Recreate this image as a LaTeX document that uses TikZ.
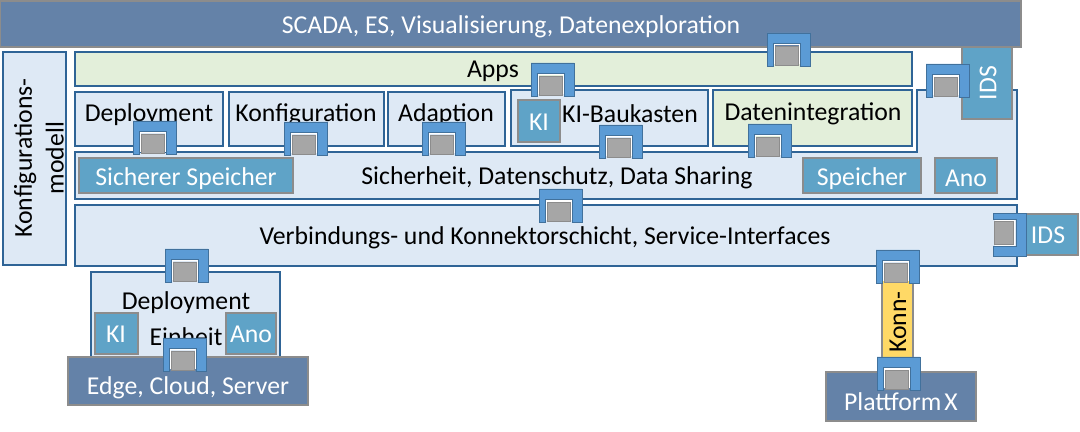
\documentclass[tikz,border=0pt]{standalone}
\usepackage{fontspec}
\setmainfont{Carlito}
\definecolor{darkfill}{HTML}{6482A8}
\definecolor{lightfill}{HTML}{DEE9F5}
\definecolor{greenfill}{HTML}{E3EFDA}
\definecolor{tealfill}{HTML}{5FA3C7}
\definecolor{konnfill}{HTML}{FFD966}
\definecolor{bluedge}{HTML}{2F6496}
\definecolor{greyedge}{HTML}{8C8C8C}
\definecolor{clampfill}{HTML}{5B9BD5}
\definecolor{clampedge}{HTML}{41719C}
\tikzset{
  darkbox/.style={draw=greyedge,fill=darkfill,line width=0.8pt},
  lightbox/.style={draw=bluedge,fill=lightfill,line width=0.8pt},
  greenbox/.style={draw=bluedge,fill=greenfill,line width=0.8pt},
  tealbox/.style={draw=greyedge,fill=tealfill,line width=0.8pt},
  konnbox/.style={draw=greyedge,fill=konnfill,line width=0.8pt},
  blacktext/.style={inner sep=0pt,font=\fontsize{18.3}{21.5}\selectfont,text=black},
  whitetext/.style={inner sep=0pt,font=\fontsize{18.3}{21.5}\selectfont,text=white},
  clamp/.pic={
    \draw[draw=clampedge,fill=clampfill,line width=0.5pt]
      (-21.5,16.5) -- (-21.5,-16.5) -- (21.5,-16.5) -- (21.5,16.5) -- (11.5,16.5)
      -- (11.5,-6.5) -- (-15.5,-6.5) -- (-15.5,16.5) -- cycle;
    \draw[draw=white,line width=0.7pt] (-14.5,15) -- (-14.5,-5) -- (10.5,-5) -- (10.5,15);
    \draw[draw=greyedge,fill=black!35,line width=0.6pt] (-13.5,-3.5) rectangle (9.5,15.5);
  }
}
\begin{document}
\begin{tikzpicture}[x=0.025cm,y=-0.025cm]
\useasboundingbox (0,0) rectangle (1080,432);

%top
\draw[darkbox] (0,1) rectangle (1021,47);
\node[whitetext] (scada) at (511,27) {SCADA, ES, Visualisierung, Datenexploration};

%konfigurationsmodell
\draw[lightbox] (3,52) rectangle (66,265);
\node[blacktext,rotate=90,align=center] (konfig) at (39,158) {Konfigurations-\\[1pt]modell};

%apps
\draw[greenbox] (75,52) rectangle (912,86);
\node[blacktext] (apps) at (493,71) {Apps};

%sicherheit
\draw[lightbox] (75,152) -- (917,152) -- (917,90) -- (1017,90) -- (1017,199) -- (75,199) -- cycle;
\node[blacktext] (sicher) at (557,178) {Sicherheit, Datenschutz, Data Sharing};
\draw[tealbox] (79,158) rectangle (293,193);
\node[whitetext] (sspeicher) at (186,179) {Sicherer Speicher};
\draw[tealbox] (803,158) rectangle (921,193);
\node[whitetext] (speicher) at (862,179) {Speicher};
\draw[tealbox] (935,158) rectangle (997,193);
\node[whitetext] (ano) at (966,178) {Ano};

%ids oben
\draw[tealbox] (962,47) rectangle (1012,119);
\node[whitetext,rotate=90] (idsa) at (988,83) {IDS};

%mittlere reihe
\draw[lightbox] (75,92) rectangle (223,146);
\node[blacktext] (deploy) at (149,115) {Deployment};
\draw[lightbox] (229,92) rectangle (384,146);
\node[blacktext] (konf) at (306,115) {Konfiguration};
\draw[lightbox] (388,92) rectangle (505,146);
\node[blacktext] (adapt) at (446,115) {Adaption};
\draw[lightbox] (511,90) rectangle (708,146);
\node[blacktext] (baukasten) at (630,114) {KI-Baukasten};
\draw[tealbox] (518,100) rectangle (560,142);
\node[whitetext] (kia) at (539,122) {KI};
\draw[greenbox] (713,90) rectangle (912,146);
\node[blacktext] (integr) at (813,114) {Datenintegration};

%verbindung
\draw[lightbox] (75,205) rectangle (1017,266);
\node[blacktext] (verb) at (545,238) {Verbindungs- und Konnektorschicht, Service-Interfaces};
\draw[tealbox] (1023,214) rectangle (1078,255);
\node[whitetext] (idsb) at (1048,235) {IDS};

%deployment einheit
\draw[lightbox] (91,272) rectangle (280,357);
\node[blacktext] (einheita) at (186,303) {Deployment};
\node[blacktext] (einheitb) at (186,337) {Einheit};
\draw[tealbox] (95,313) rectangle (138,354);
\node[whitetext] (kib) at (116,334) {KI};
\draw[tealbox] (226,313) rectangle (276,354);
\node[whitetext] (anob) at (251,334) {Ano};
\draw[darkbox] (68,357) rectangle (308,405);
\node[whitetext] (edge) at (188,388) {Edge, Cloud, Server};

%plattform
\draw[konnbox] (882,270) rectangle (913,368);
\node[blacktext,rotate=90] (konn) at (898,322) {Konn-};
\draw[darkbox] (826,372) rectangle (976,421);
\node[whitetext] (plattform) at (901,402) {Plattform\kern-2pt\ X};

%clamps
\path (788.5,49.5) pic {clamp};
\path (552.5,79.5) pic {clamp};
\path (947.5,80.5) pic {clamp};
\path (154.5,137.5) pic {clamp};
\path (305.5,138.5) pic {clamp};
\path (443.5,138.5) pic {clamp};
\path (620.5,141.5) pic {clamp};
\path (769.5,140.5) pic {clamp};
\path (560.5,205.5) pic {clamp};
\path (186.5,265.5) pic {clamp};
\path (184.5,354.5) pic {clamp};
\path (897.5,266.5) pic {clamp};
\path (898.5,373.5) pic {clamp};
\path (1009.5,235) pic[rotate=-90] {clamp};

\end{tikzpicture}
\end{document}
